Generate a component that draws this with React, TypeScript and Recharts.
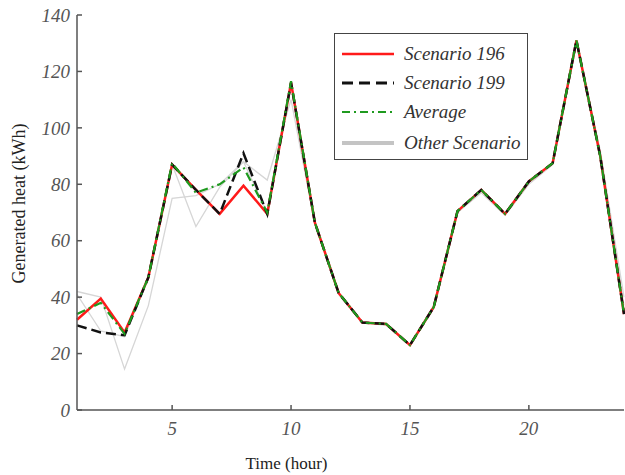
import { LineChart, Line, XAxis, YAxis, Legend } from 'recharts';

const hours = [1, 2, 3, 4, 5, 6, 7, 8, 9, 10, 11, 12, 13, 14, 15, 16, 17, 18, 19, 20, 21, 22, 23, 24];
const xTicks = [5, 10, 15, 20];
const yTicks = [0, 20, 40, 60, 80, 100, 120, 140];

const scenario196 = [32, 39.5, 27.5, 47, 87, 78, 69.5, 79.5, 69.5, 116, 66.5, 41.5, 31, 30.5, 23, 36.5, 70.5, 78, 69.5, 81, 87.5, 131, 90, 34];
const scenario199 = [30, 27.5, 26.5, 47, 87, 78, 69.5, 91, 69.5, 116, 66.5, 41.5, 31, 30.5, 23, 36.5, 70.5, 78, 69.5, 81, 87.5, 131, 90, 34];
const average = [34, 38, 27, 47, 87.5, 77, 80, 86, 70, 116.5, 66.5, 41.5, 31, 30.5, 23, 36.5, 70.5, 78, 69.5, 81, 87.5, 131, 90, 34];
const otherA = [42, 40, 14.5, 37, 75, 76, 80, 88, 81.5, 110, 66, 41, 31, 30, 23, 36, 70, 77, 69, 80, 87, 130, 92, 40];
const otherB = [41, 28, 26, 47, 87, 65, 79, 88, 70, 116, 66.5, 41.5, 31, 30.5, 23, 36.5, 70.5, 78, 69.5, 81, 87.5, 131, 91, 37];

const data = hours.map((h, i) => ({
  hour: h,
  s196: scenario196[i],
  s199: scenario199[i],
  avg: average[i],
  oa: otherA[i],
  ob: otherB[i],
}));

const font = '"Liberation Serif", "Times New Roman", Times, serif';

const legendItems = [
  { label: 'Scenario 196', color: '#ff1a1a', dash: undefined, width: 2.5 },
  { label: 'Scenario 199', color: '#111111', dash: '11 6', width: 3 },
  { label: 'Average', color: '#1f9a1f', dash: '8 4 2 4', width: 2 },
  { label: 'Other Scenario', color: '#c4c4c4', dash: undefined, width: 4 },
];

function LegendBox() {
  return (
    <div
      style={{
        border: '1.5px solid #444',
        background: '#fff',
        width: 194,
        height: 127,
        boxSizing: 'border-box',
        padding: '5px 0 0 5px',
        fontFamily: font,
        fontStyle: 'italic',
        fontSize: 19,
        color: '#333',
      }}
    >
      {legendItems.map((it, i) => (
        <div key={it.label} style={{ display: 'flex', alignItems: 'center', height: 29, marginTop: i === 3 ? 2 : 0 }}>
          <svg width={58} height={10} style={{ marginRight: 6 }}>
            <line x1={2} y1={5} x2={54} y2={5} stroke={it.color} strokeWidth={it.width} strokeDasharray={it.dash} />
          </svg>
          <span>{it.label}</span>
        </div>
      ))}
    </div>
  );
}

function YLabel({ viewBox }: any) {
  const cy = viewBox.y + viewBox.height / 2 - 9;
  return (
    <text x={19} y={cy} transform={`rotate(-90 19 ${cy})`} textAnchor="middle" dominantBaseline="central" style={{ fontFamily: font, fontSize: 18 }} fill="#222">
      Generated heat (kWh)
    </text>
  );
}

function XLabel({ viewBox }: any) {
  const cx = viewBox.x + viewBox.width / 2 - 64;
  return (
    <text x={cx} y={469} textAnchor="middle" style={{ fontFamily: font, fontSize: 17 }} fill="#222">
      Time (hour)
    </text>
  );
}

export default function App() {
  const tickStyle = { fontFamily: font, fontStyle: 'italic', fontSize: 19, fill: '#555' };
  return (
    <div style={{ position: 'absolute', left: 0, top: 0, background: '#fff' }}>
      <LineChart width={625} height={475} data={data} margin={{ top: 15, right: 1, left: 0, bottom: 0 }}>
        <XAxis
          dataKey="hour"
          type="number"
          domain={[1, 24]}
          ticks={xTicks}
          height={65}
          axisLine={{ stroke: '#555', strokeWidth: 1.5 }}
          tickLine={{ stroke: '#555', strokeWidth: 1.5 }}
          tickSize={-5}
          tickMargin={17}
          tick={tickStyle}
          label={<XLabel />}
        />
        <YAxis
          domain={[0, 140]}
          ticks={yTicks}
          width={77}
          axisLine={{ stroke: '#555', strokeWidth: 1.5 }}
          tickLine={{ stroke: '#555', strokeWidth: 1.5 }}
          tickSize={-5}
          tickMargin={12}
          tick={tickStyle}
          label={<YLabel />}
        />
        <Legend
          layout="vertical"
          align="center"
          verticalAlign="middle"
          wrapperStyle={{ left: 334, top: 33, width: 194 }}
          content={() => <LegendBox />}
        />
        <Line dataKey="oa" stroke="#d6d6d6" strokeWidth={1.3} dot={false} isAnimationActive={false} legendType="none" />
        <Line dataKey="ob" stroke="#d6d6d6" strokeWidth={1.3} dot={false} isAnimationActive={false} legendType="none" />
        <Line dataKey="s196" stroke="#ff1a1a" strokeWidth={2.5} dot={false} isAnimationActive={false} />
        <Line dataKey="s199" stroke="#111111" strokeWidth={2.5} strokeDasharray="10 5" dot={false} isAnimationActive={false} />
        <Line dataKey="avg" stroke="#1f9a1f" strokeWidth={2.2} strokeDasharray="9 4 2 4" dot={false} isAnimationActive={false} />
      </LineChart>
    </div>
  );
}
